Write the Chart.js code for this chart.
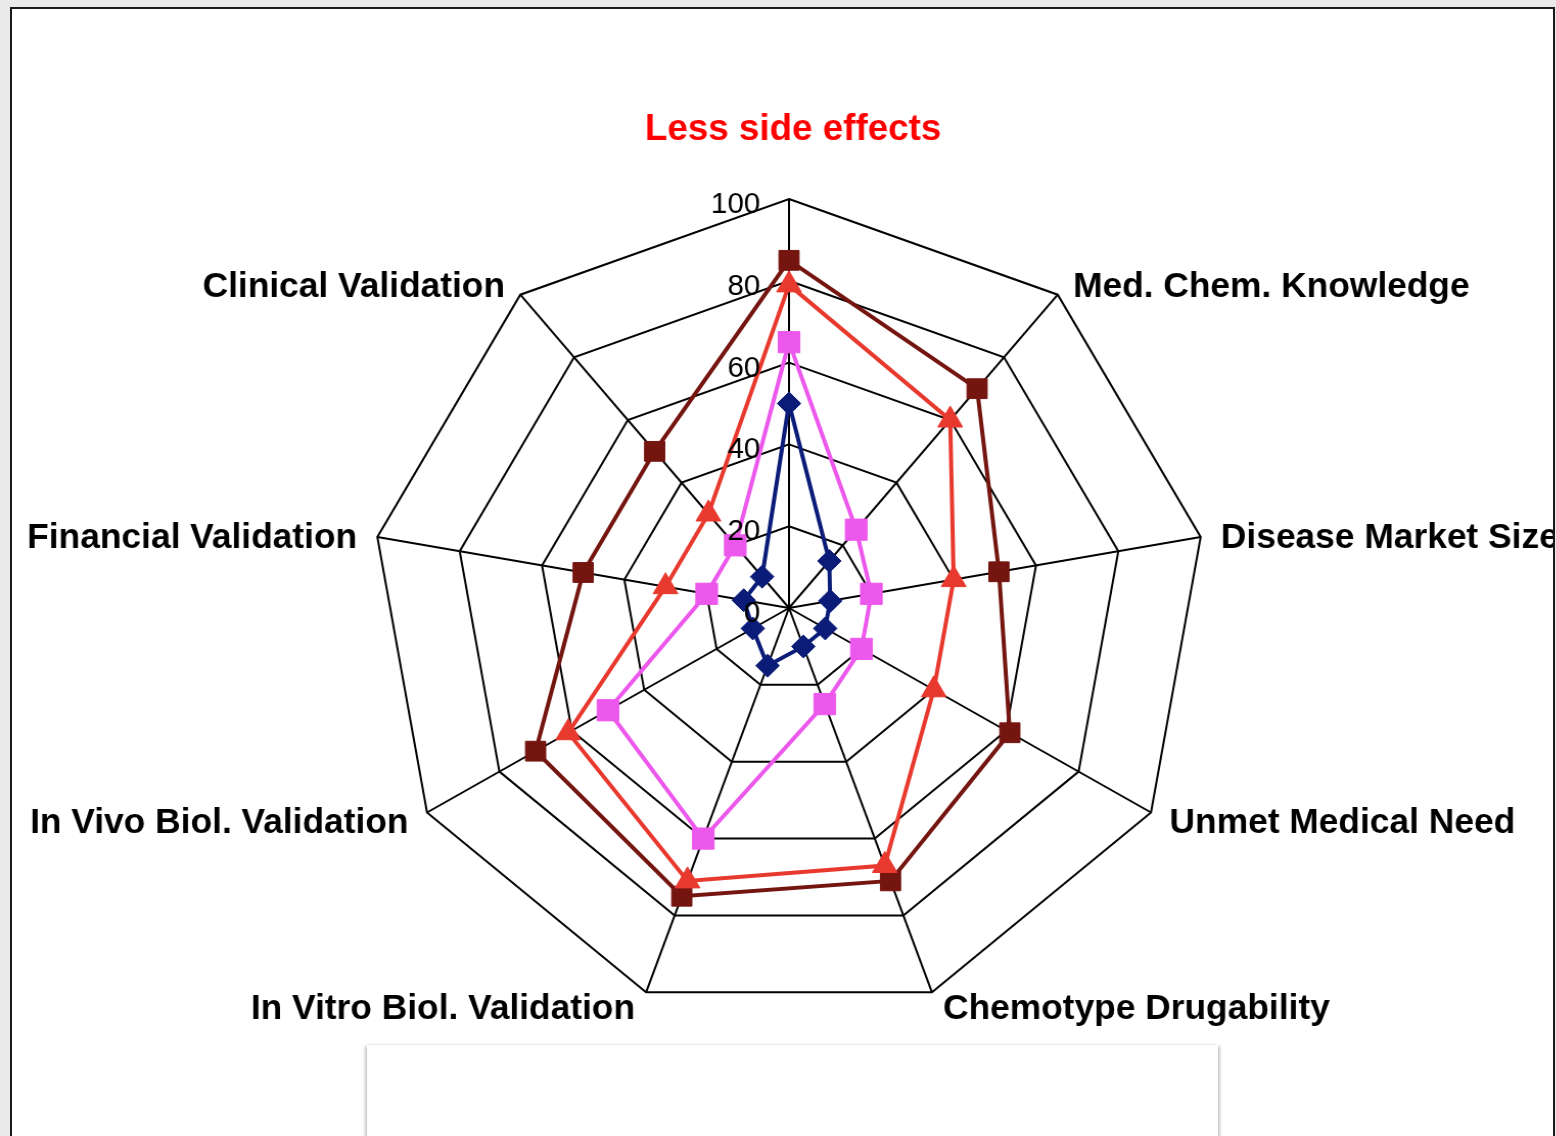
<!DOCTYPE html>
<html>
<head>
<meta charset="utf-8">
<script src="https://cdn.jsdelivr.net/npm/chart.js@4.4.1/dist/chart.umd.min.js"></script>
<style>
  body { margin: 0; background: #e9e9e9; width: 1556px; height: 1136px; overflow: hidden; }
  #frame { position: absolute; left: 10px; top: 7px; width: 1541px; height: 1200px; border: 2px solid #1a1a1a; background: #fff; overflow: hidden; }
  #legendBox { position: absolute; left: 355px; top: 1036px; width: 851px; height: 200px; background: #fff; box-shadow: -2px 1px 3px rgba(0,0,0,0.22), 2px 1px 3px rgba(0,0,0,0.22); }
  /* the original is a little wider than tall */
  #wrap { position: absolute; left: -12px; top: -9px; width: 1556px; height: 1136px; transform: scaleX(1.022); transform-origin: 789px 0; }
</style>
</head>
<body>
<div id="frame">
  <div id="legendBox"></div>
  <div id="wrap"><canvas id="chart"></canvas></div>
</div>
<script>
// categories, clockwise from the top
const categories = [
    'Less side effects',
    'Med. Chem. Knowledge',
    'Disease Market Size',
    'Unmet Medical Need',
    'Chemotype Drugability',
    'In Vitro Biol. Validation',
    'In Vivo Biol. Validation',
    'Financial Validation',
    'Clinical Validation'
];
const tickValues = [0, 20, 40, 60, 80, 100];

// series values
const navySeries = [50, 15, 10, 10, 10, 15, 10, 11, 10];
const pinkSeries = [65, 25, 20, 20, 25, 60, 50, 20, 20];
const redSeries = [79, 60, 40, 40, 67, 71, 61, 30, 30];
const darkRedSeries = [85, 70, 51, 61, 71, 75, 70, 50, 50];

const FONT = '"Liberation Sans", Arial, Helvetica, sans-serif';

// draws the 0..100 numbers just left of the vertical axis
const tickLabelPlugin = {
    id: 'tickLabels',
    afterDatasetsDraw(chart) {
        const scale = chart.scales.r;
        const ctx = chart.ctx;
        ctx.save();
        ctx.font = '29px ' + FONT;
        ctx.fillStyle = '#000';
        ctx.textAlign = 'right';
        ctx.textBaseline = 'middle';
        tickValues.forEach(v => {
            const d = scale.getDistanceFromCenterForValue(v);
            ctx.fillText(String(v), scale.xCenter - 28, scale.yCenter - d + 6);
        });
        ctx.restore();
    }
};

// category labels around the web
const pointLabelPlugin = {
    id: 'outerLabels',
    afterDraw(chart) {
        const scale = chart.scales.r;
        const ctx = chart.ctx;
        ctx.save();
        ctx.textBaseline = 'middle';
        categories.forEach((label, i) => {
            const gap = i === 0 ? 73 : 14;
            const p = scale.getPointPosition(i, scale.drawingArea + gap);
            const s = Math.sin(scale.getIndexAngle(i));
            let x = p.x;
            if (Math.abs(s) < 0.01) {
                ctx.textAlign = 'center';
                x += 4;
            } else if (s > 0) {
                ctx.textAlign = 'left';
                x += 6;
            } else {
                ctx.textAlign = 'right';
                x -= 6;
            }
            // the top one is the highlighted criterion
            ctx.font = i === 0 ? 'bold 36px ' + FONT : 'bold 34.6px ' + FONT;
            ctx.fillStyle = i === 0 ? '#ff0000' : '#000';
            ctx.fillText(label, x, p.y + 4);
        });
        ctx.restore();
    }
};

function series(data, color, style, radius) {
    return {
        data: data,
        borderColor: color,
        backgroundColor: color,
        borderWidth: 4,
        pointStyle: style,
        pointRadius: radius,
        pointHoverRadius: radius,
        pointBorderWidth: 1,
        pointBorderColor: color,
        pointBackgroundColor: color,
        fill: false,
        tension: 0
    };
}

const ctx = document.getElementById('chart').getContext('2d');
const myChart = new Chart(ctx, {
    type: 'radar',
    data: {
        labels: categories,
        datasets: [
            series(navySeries, '#0b1c78', 'rectRot', 11.5),
            series(pinkSeries, '#ec58ec', 'rect', 15),
            series(redSeries, '#e8392e', 'triangle', 14),
            series(darkRedSeries, '#741510', 'rect', 14)
        ]
    },
    options: {
        responsive: true,
        maintainAspectRatio: false,
        animation: false,
        layout: { padding: { left: 380, right: 358, top: 199, bottom: 119 } },
        plugins: {
            legend: { display: false },
            tooltip: { enabled: false }
        },
        scales: {
            r: {
                min: 0,
                max: 100,
                ticks: { stepSize: 20, display: false },
                grid: { color: '#000', lineWidth: 2 },
                angleLines: { color: '#000', lineWidth: 2 },
                pointLabels: { display: false }
            }
        }
    },
    plugins: [tickLabelPlugin, pointLabelPlugin]
});
</script>
</body>
</html>
